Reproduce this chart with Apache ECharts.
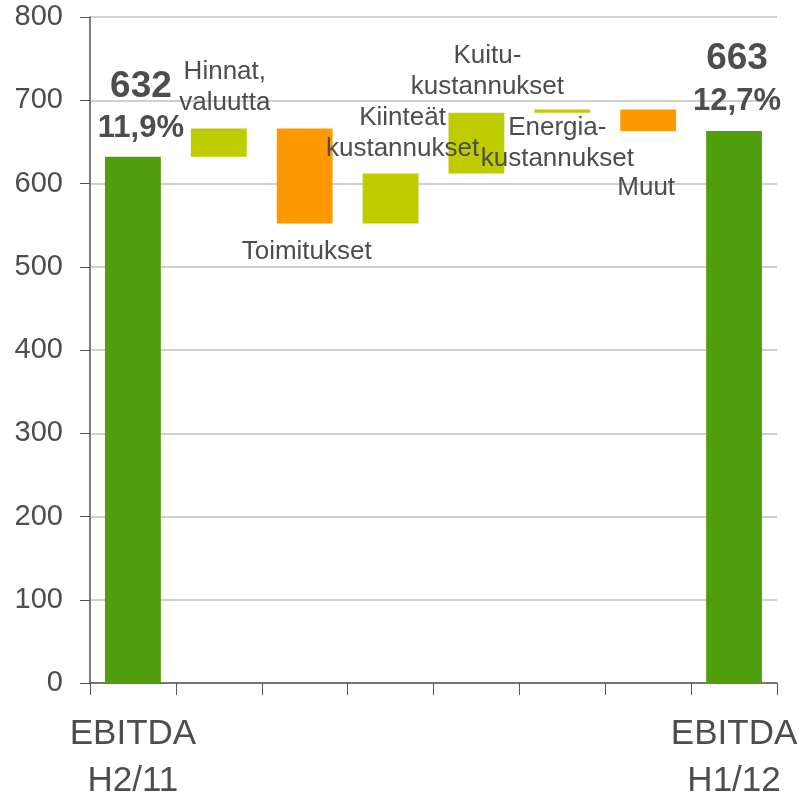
<!DOCTYPE html>
<html>
<head>
<meta charset="utf-8">
<script src="https://cdn.jsdelivr.net/npm/echarts@6/dist/echarts.min.js"></script>
<style>
  html, body { margin: 0; padding: 0; background: #fff; }
  #chart { width: 803px; height: 797px; }
</style>
</head>
<body>
<div id="chart"></div>
<script>
// kategoriat ja muutokset (EBITDA-silta)
const categories = ['EBITDA\nH2/11', 'Hinnat,\nvaluutta', 'Toimitukset', 'Kiinteät\nkustannukset',
  'Kuitu-\nkustannukset', 'Energia-\nkustannukset', 'Muut', 'EBITDA\nH1/12']
const changes = [632, 34, -114, 60, 73, 4, -26, 663]
const isTotal = [true, false, false, false, false, false, false, true]
const margins = ['11,9%', '', '', '', '', '', '', '12,7%']

// label placement for each bar (style only)
const labelLayout = [
  { position: 'top', offset: [8, -2] },
  { position: 'top', offset: [6, -5] },
  { position: 'bottom', offset: [2, 8] },
  { position: 'top', offset: [12, -4] },
  { position: 'top', offset: [11, -5] },
  { position: 'bottom', offset: [-5, -5] },
  { position: 'bottom', offset: [-2, 36] },
  { position: 'top', offset: [3, -4] },
]

const textColor = '#4d4d4d'
const font = 'Liberation Sans, Arial, sans-serif'

// laske pohja ja korkeus jokaiselle palkille
let running = 0
const baseData = []
const deltaData = []
changes.forEach(function (v, i) {
  let base, height, color
  if (isTotal[i]) {
    base = 0
    height = v
    running = v
    color = '#519f0c'
  } else if (v >= 0) {
    base = running
    height = v
    running += v
    color = '#bfcd00'
  } else {
    running += v
    base = running
    height = -v
    color = '#ff9900'
  }
  baseData.push(base)
  const lay = labelLayout[i]
  deltaData.push({
    value: height,
    itemStyle: { color: color },
    label: {
      show: true,
      position: lay.position,
      offset: lay.offset,
      formatter: isTotal[i]
        ? '{a|' + v + '}\n{b|' + margins[i] + '}'
        : categories[i],
      fontSize: 26,
      lineHeight: 31,
      color: textColor,
      fontFamily: font,
      rich: {
        a: { fontSize: 37, fontWeight: 'bold', lineHeight: 42, color: textColor, fontFamily: font },
        b: { fontSize: 31, fontWeight: 'bold', lineHeight: 42, color: textColor, fontFamily: font },
      },
    },
  })
})

const myChart = echarts.init(document.getElementById('chart'))
myChart.setOption({
  animation: false,
  grid: { left: 90, right: 26, top: 17, bottom: 114, outerBoundsMode: 'none', containLabel: false },
  xAxis: {
    type: 'category',
    data: categories,
    axisLine: { lineStyle: { color: '#555', width: 1.5 } },
    axisTick: { show: true, length: 12, interval: 0, lineStyle: { color: '#555' } },
    axisLabel: {
      interval: 0,
      fontSize: 35,
      lineHeight: 47,
      margin: 28,
      color: textColor,
      fontFamily: font,
      formatter: function (v, i) {
        return isTotal[i] ? v : ''
      },
    },
  },
  yAxis: {
    type: 'value',
    min: 0,
    max: 800,
    interval: 100,
    axisLine: { show: true, lineStyle: { color: '#555', width: 1.5 } },
    axisTick: { show: true, length: 10, lineStyle: { color: '#555' } },
    axisLabel: { fontSize: 29, margin: 27, color: textColor, fontFamily: font },
    splitLine: { lineStyle: { color: '#c0c0c0', width: 1.5 } },
  },
  series: [
    {
      name: 'base',
      type: 'bar',
      stack: 'silta',
      barWidth: '65%',
      itemStyle: { color: 'transparent' },
      emphasis: { disabled: true },
      data: baseData,
    },
    {
      name: 'muutos',
      type: 'bar',
      stack: 'silta',
      barWidth: '65%',
      data: deltaData,
    },
  ],
})
</script>
</body>
</html>
